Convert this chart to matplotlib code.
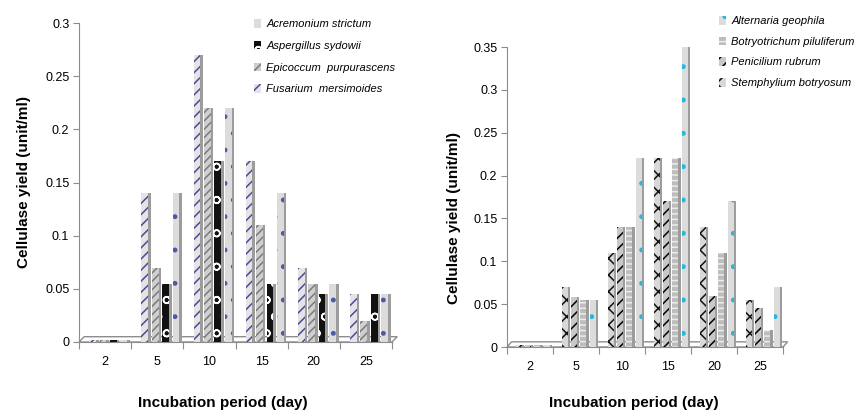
import numpy as np
import matplotlib
matplotlib.use("Agg")
import matplotlib.pyplot as plt
from matplotlib.patches import Patch, Polygon
from matplotlib.ticker import FormatStrFormatter

days = ["2", "5", "10", "15", "20", "25"]

# left panel, legend order
left_names = ["Acremonium strictum", "Aspergillus sydowii",
              "Epicoccum  purpurascens", "Fusarium  mersimoides"]
acremonium = [0.002, 0.14, 0.22, 0.14, 0.055, 0.045]
aspergillus = [0.002, 0.055, 0.17, 0.055, 0.045, 0.045]
epicoccum = [0.002, 0.07, 0.22, 0.11, 0.055, 0.02]
fusarium = [0.002, 0.14, 0.27, 0.17, 0.07, 0.045]

# right panel, legend order
right_names = ["Alternaria geophila", "Botryotrichum piluliferum",
               "Penicilium rubrum", "Stemphylium botryosum"]
alternaria = [0.002, 0.055, 0.22, 0.35, 0.17, 0.07]
botryotrichum = [0.002, 0.055, 0.14, 0.22, 0.11, 0.02]
penicilium = [0.002, 0.058, 0.14, 0.17, 0.06, 0.045]
stemphylium = [0.002, 0.07, 0.11, 0.22, 0.14, 0.055]

# (face, hatch colour, hatch)
left_styles = [("#dcdcdc", "#4a5aa8", "."),
               ("#111111", "#ffffff", "o"),
               ("#cfcfcf", "#7a7a7a", "////"),
               ("#e4e4e4", "#4a4a9a", "///")]
right_styles = [("#dcdcdc", "#22b8e0", "."),
                ("#bdbdbd", "#ececec", "---"),
                ("#c8c8c8", "#000000", "///"),
                ("#d8d8d8", "#111111", "xx")]

font = ["Liberation Sans", "DejaVu Sans"]
plt.rcParams["hatch.linewidth"] = 1.1

fig = plt.figure(figsize=(8.61, 4.17), dpi=100)


def draw_panel(ax, series, styles, names, ymax, leg_xy, floor_dy, lsp):
    x = np.arange(len(days))
    w = 0.13
    side = 0.05
    shift = 0.06
    offs = [-0.3, -0.1, 0.1, 0.3]
    # floor
    floor = Polygon([(-0.5, 0), (5.5, 0), (5.5 + 0.1, floor_dy), (-0.5 + 0.1, floor_dy)],
                    closed=True, facecolor="white", edgecolor="#8c8c8c", lw=1.0,
                    clip_on=False, zorder=1)
    ax.add_patch(floor)
    # bars are drawn in reversed legend order
    for k, i in enumerate(reversed(range(4))):
        vals = series[i]
        face, hc, hatch = styles[i]
        xs = x + offs[k] + shift
        ax.bar(xs, vals, width=w, color=face, edgecolor=hc, hatch=hatch,
               lw=0, zorder=3, clip_on=False)
        ax.bar(xs + w / 2 + side / 2, vals, width=side, color="#9c9c9c",
               lw=0, zorder=3, clip_on=False)
    ax.set_xlim(-0.5, 5.5)
    ax.set_ylim(0, ymax)
    ax.set_yticks(np.arange(0, ymax + 0.001, 0.05))
    ax.yaxis.set_major_formatter(FormatStrFormatter("%g"))
    ax.set_xticks(np.arange(-0.5, 5.6, 1.0))
    ax.set_xticklabels([])
    ax.set_xticks(x, minor=True)
    ax.set_xticklabels(days, minor=True, family=font, fontsize=9)
    ax.tick_params(axis="x", which="minor", length=0, pad=10)
    ax.tick_params(axis="x", which="major", length=5, color="#8c8c8c")
    ax.tick_params(axis="y", length=4, color="#8c8c8c", pad=3)
    for lab in ax.get_yticklabels():
        lab.set_family(font)
        lab.set_fontsize(9)
    for s in ["top", "right"]:
        ax.spines[s].set_visible(False)
    ax.spines["left"].set_color("#8c8c8c")
    ax.spines["bottom"].set_color("#8c8c8c")
    handles = [Patch(facecolor=st[0], edgecolor=st[1], hatch=st[2], lw=0) for st in styles]
    ax.legend(handles, names, loc="upper left", bbox_to_anchor=leg_xy,
              bbox_transform=fig.transFigure, frameon=False,
              prop={"family": font, "style": "italic", "size": 8},
              handlelength=0.6, handleheight=0.8, handletextpad=0.5,
              labelspacing=lsp, borderaxespad=0, borderpad=0)
    ax.set_ylabel("Cellulase yield (unit/ml)", fontsize=11, fontweight="bold",
                  family=font)
    ax.set_xlabel("Incubation period (day)", fontsize=11, fontweight="bold",
                  family=font)


ax1 = fig.add_axes([79 / 861, 1 - 342 / 417, 313 / 861, 319 / 417])
draw_panel(ax1, [acremonium, aspergillus, epicoccum, fusarium], left_styles,
           left_names, 0.3, (254 / 861, 1 - 19 / 417), 0.005, 1.05)
ax1.yaxis.set_label_coords(-0.153, 0.50)
ax1.xaxis.set_label_coords(0.46, -0.169)

ax2 = fig.add_axes([507 / 861, 1 - 347 / 417, 276 / 861, 300 / 417])
draw_panel(ax2, [alternaria, botryotrichum, penicilium, stemphylium], right_styles,
           right_names, 0.35, (719 / 861, 1 - 16 / 417), 0.006, 0.95)
ax2.yaxis.set_label_coords(-0.167, 0.43)
ax2.xaxis.set_label_coords(0.46, -0.163)

fig.savefig("out.png", dpi=100, facecolor="white")
